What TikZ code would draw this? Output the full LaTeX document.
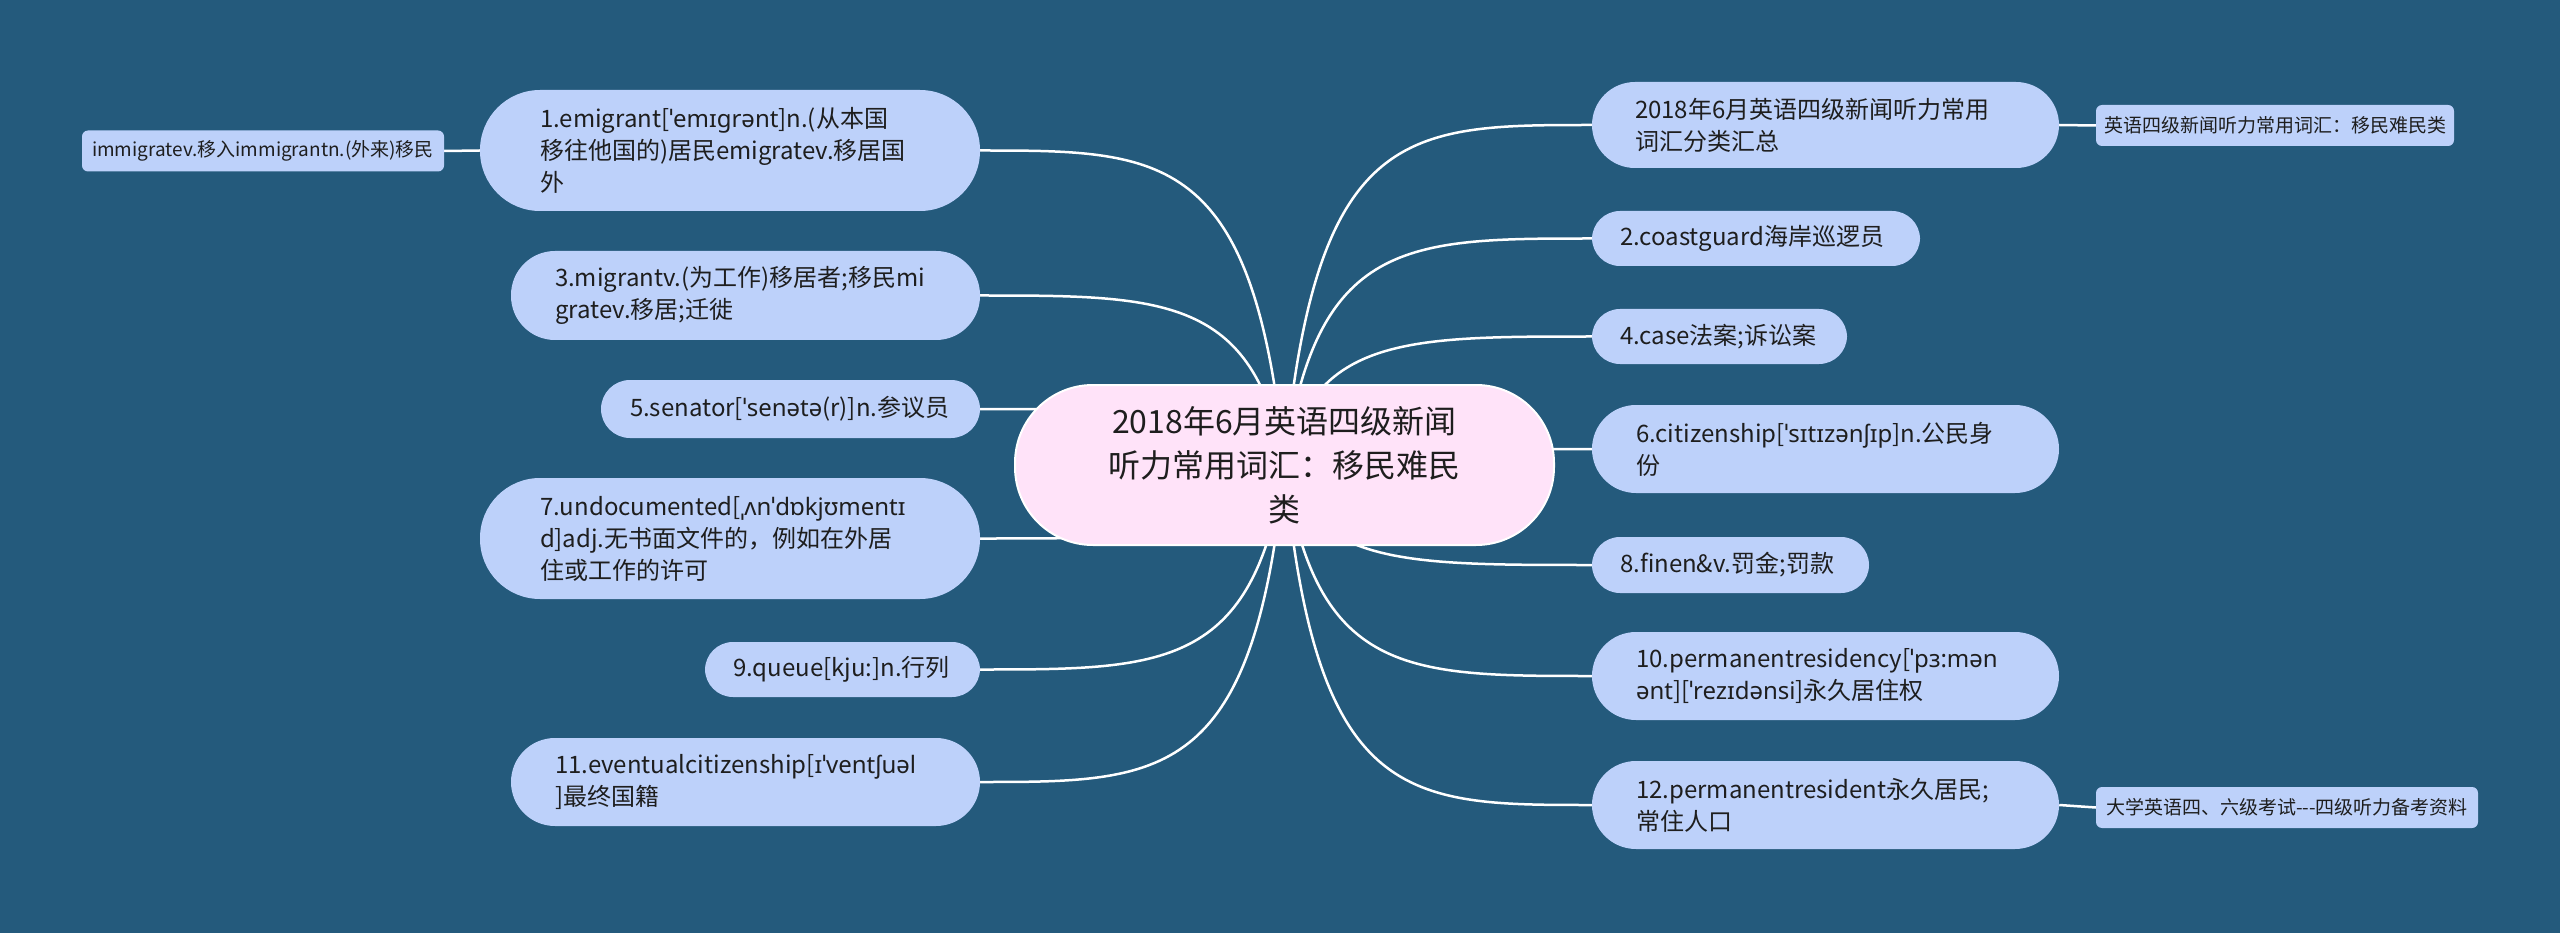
\documentclass[tikz,border=0pt]{standalone}
\usepackage{fontspec}
\setmainfont{Noto Sans CJK SC}
\newfontfamily\ipafont{Noto Sans}
\newcommand\ipa[1]{{\ipafont #1}}
\usetikzlibrary{calc}
\definecolor{bgc}{HTML}{245A7C}
\definecolor{nodec}{HTML}{BDD1FA}
\definecolor{rootc}{HTML}{FFE3F9}
\definecolor{txt}{HTML}{1E1E1E}
\pgfdeclarelayer{bg}
\pgfdeclarelayer{edges}
\pgfsetlayers{bg,edges,main}
\newcommand\mmbranch[2]{%
  \draw[edge] let \p0=(C.center), \p3=(#1.#2) in
    (\p0) .. controls ({\x0+0.1*(\x3-\x0)},\y3) and ({\x0+0.4*(\x3-\x0)},\y3) .. (\p3);}
\begin{document}
\begin{tikzpicture}[x=1pt,y=-1pt,
  topic/.style n args={3}{fill=nodec, text=txt, font=\fontsize{24}{32}\selectfont,
    align=left, text width=#1, minimum height=#2, inner xsep=#3, inner ysep=0pt,
    rounded corners=#3},
  sub/.style={fill=nodec, text=txt, font=\fontsize{19}{24}\selectfont,
    minimum width=#1, minimum height=41pt, inner sep=0pt, rounded corners=6pt},
  root/.style={fill=rootc, draw=white, line width=2pt, text=txt,
    font=\fontsize{32}{44}\selectfont, align=center, minimum width=539pt,
    minimum height=160pt, inner sep=0pt, rounded corners=78pt},
  edge/.style={draw=white, line width=2.5pt}]
\begin{pgfonlayer}{bg}
  \fill[bgc] (0,0) rectangle (2560,933);
\end{pgfonlayer}
\useasboundingbox (0,0) rectangle (2560,933);

\node[root] (C) at (1284.5,465) {2018年6月英语四级新闻\\听力常用词汇：移民难民\\类};

% left
\node[topic={380pt}{121pt}{60pt}] (L0) at (730,150.5) {1.emigrant[\ipa{ˈemɪgrənt}]n.(从本国\\移往他国的)居民emigratev.移居国\\外};
\node[sub=362pt] (L0c) at (263,151) {immigratev.移入immigrantn.(外来)移民};
\node[topic={381pt}{89pt}{44pt}] (L1) at (745.5,295.5) {3.migrantv.(为工作)移居者;移民mi\\gratev.移居;迁徙};
\node[topic={321pt}{58pt}{29pt}] (L2) at (790.5,409) {5.senator[\ipa{ˈsenətə}(r)]n.参议员};
\node[topic={380pt}{121pt}{60pt}] (L3) at (730,538.5) {7.undocumented[\ipa{ˌʌnˈdɒkjʊmentɪ}\\d]adj.无书面文件的，例如在外居\\住或工作的许可};
\node[topic={219pt}{55pt}{28pt}] (L4) at (842.5,669.5) {9.queue[kju:]n.行列};
\node[topic={381pt}{88pt}{44pt}] (L5) at (745.5,782) {11.eventualcitizenship[\ipa{ɪˈventʃuəl}\\]最终国籍};

% right
\node[topic={381pt}{86pt}{43pt}] (R0) at (1825.5,125) {2018年6月英语四级新闻听力常用\\词汇分类汇总};
\node[sub=358pt] (R0c) at (2275,125.5) {英语四级新闻听力常用词汇：移民难民类};
\node[topic={272pt}{55pt}{28pt}] (R1) at (1756,238.5) {2.coastguard海岸巡逻员};
\node[topic={199pt}{55pt}{28pt}] (R2) at (1719.5,336.5) {4.case法案;诉讼案};
\node[topic={379pt}{88pt}{44pt}] (R3) at (1825.5,449) {6.citizenship[\ipa{ˈsɪtɪzənʃɪp}]n.公民身\\份};
\node[topic={221pt}{56pt}{28pt}] (R4) at (1730.5,565) {8.finen\&v.罚金;罚款};
\node[topic={379pt}{88pt}{44pt}] (R5) at (1825.5,676) {10.permanentresidency[\ipa{ˈpɜ:mən}\\\ipa{ənt}][\ipa{ˈrezɪdənsi}]永久居住权};
\node[topic={379pt}{88pt}{44pt}] (R6) at (1825.5,805) {12.permanentresident永久居民;\\常住人口};
\node[sub=382pt] (R6c) at (2287,807.5) {大学英语四、六级考试-{}-{}-四级听力备考资料};

\begin{pgfonlayer}{edges}
  \mmbranch{L0}{east}
  \mmbranch{L1}{east}
  \mmbranch{L2}{east}
  \mmbranch{L3}{east}
  \mmbranch{L4}{east}
  \mmbranch{L5}{east}
  \mmbranch{R0}{west}
  \mmbranch{R1}{west}
  \mmbranch{R2}{west}
  \mmbranch{R3}{west}
  \mmbranch{R4}{west}
  \mmbranch{R5}{west}
  \mmbranch{R6}{west}
  \draw[edge] (L0.west) -- (L0c.east);
  \draw[edge] (R0.east) -- (R0c.west);
  \draw[edge] (R6.east) -- (R6c.west);
\end{pgfonlayer}
\end{tikzpicture}
\end{document}
